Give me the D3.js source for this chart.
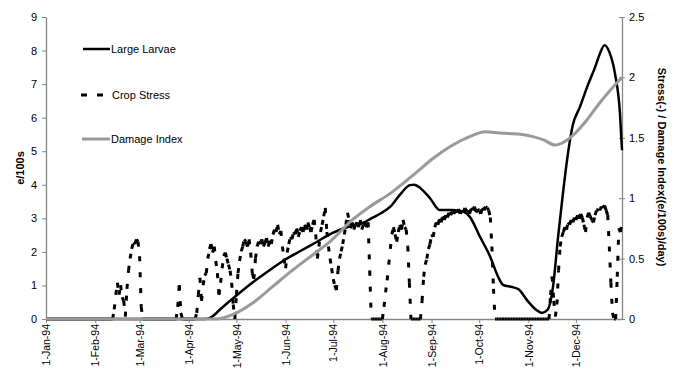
<!DOCTYPE html>
<html><head><meta charset="utf-8">
<script src="https://cdn.jsdelivr.net/npm/d3@7"></script>
<style>
body{margin:0;background:#fff;}
svg{display:block;font-family:"Liberation Sans",Arial,sans-serif;}
</style>
</head><body>
<svg id="chart" width="679" height="370"></svg>
<script>
// ---------- DATA ----------
const xTickLabels = ["1-Jan-94","1-Feb-94","1-Mar-94","1-Apr-94","1-May-94","1-Jun-94","1-Jul-94","1-Aug-94","1-Sep-94","1-Oct-94","1-Nov-94","1-Dec-94"];
const yLeftTicks = [0,1,2,3,4,5,6,7,8,9];
const yRightTicks = [0,0.5,1,1.5,2,2.5];
const seriesNames = ["Large Larvae","Crop Stress","Damage Index"];

// Large Larvae (e/100s, left axis): day of year, value
const larvaeDays   = [0,100,104,110,120,130,140,150,160,170,180,190,200,205,211,217,223,229.4,232,236,242,248,256,263,267,273.5,280,285,288,294,298,303,309,312.5,316,319.5,322.7,325.8,329,332,336.5,341,346,349,352,355,358.5,361.7,363];
const larvaeValues = [0,0,0.05,0.3,0.7,1.08,1.42,1.75,2.02,2.28,2.55,2.74,2.87,3.0,3.15,3.35,3.7,3.99,4.0,3.9,3.6,3.25,3.25,3.2,3.05,2.45,1.85,1.25,1.02,0.95,0.88,0.57,0.27,0.18,0.27,0.95,2.44,3.75,4.95,5.78,6.32,6.91,7.5,7.9,8.16,7.96,7.33,6.14,5.03];

// Damage Index (right axis)
const damageDays   = [0,107,112,120,130,143,155,168,179,193,204,217,234,243,255,267,277,286,299,307,314,320.7,327,332,341,349,356,363];
const damageValues = [0,0,0.01,0.05,0.13,0.27,0.4,0.53,0.64,0.82,0.93,1.04,1.22,1.32,1.43,1.51,1.55,1.54,1.53,1.51,1.48,1.44,1.47,1.52,1.65,1.79,1.9,2.0];

// Crop Stress (right axis), daily values; days not listed are 0
const stressFebStart = 42;
const stressFeb = [0,0.08,0.2,0.3,0.2,0.28,0.18,0.15,0.02,0.25,0.4,0.5,0.58,0.63,0.62,0.66,0.64,0.52,0.1,0];
const stressMarStart = 82;
const stressMar = [0,0.1,0.28,0.05,0];
const stressAprJulStart = 94;
const stressAprJul = [0,0.05,0.2,0.34,0.15,0.28,0.36,0.38,0.5,0.58,0.62,0.55,0.6,0.48,0.38,0.2,0.3,0.42,0.52,0.55,0.5,0.45,0.4,0.3,0.12,0.0,0.2,0.38,0.48,0.56,0.6,0.66,0.64,0.6,0.66,0.55,0.38,0.33,0.5,0.6,0.64,0.62,0.66,0.6,0.63,0.67,0.6,0.65,0.62,0.7,0.74,0.72,0.78,0.7,0.73,0.6,0.5,0.42,0.55,0.62,0.68,0.66,0.72,0.7,0.75,0.68,0.73,0.76,0.72,0.78,0.74,0.8,0.76,0.72,0.78,0.82,0.7,0.5,0.6,0.72,0.78,0.85,0.92,0.72,0.6,0.5,0.42,0.33,0.28,0.24,0.4,0.5,0.56,0.62,0.7,0.78,0.88,0.82,0.75,0.8,0.74,0.78,0.8,0.76,0.82,0.74,0.78,0.8,0.76,0.8,0.4,0];
const stressAugStart = 212;
const stressAug = [0,0.1,0.22,0.32,0.45,0.58,0.7,0.76,0.7,0.64,0.72,0.78,0.74,0.82,0.76,0.74,0.6,0.3,0];
const stressSepOctStart = 236;
const stressSepOct = [0,0.15,0.35,0.45,0.5,0.58,0.62,0.7,0.68,0.76,0.8,0.78,0.83,0.8,0.85,0.82,0.86,0.84,0.88,0.86,0.89,0.87,0.9,0.88,0.91,0.87,0.9,0.88,0.92,0.89,0.9,0.87,0.92,0.9,0.93,0.88,0.91,0.9,0.87,0.92,0.9,0.93,0.92,0.9,0.84,0.6,0.25,0];
const stressDecStart = 317;
const stressDec = [0,0.2,0.35,0.15,0.02,0.12,0.4,0.6,0.68,0.72,0.76,0.74,0.8,0.78,0.82,0.8,0.84,0.82,0.86,0.83,0.87,0.84,0.78,0.72,0.84,0.88,0.85,0.82,0.8,0.86,0.9,0.91,0.9,0.93,0.92,0.94,0.9,0.86,0.6,0.3,0.05,0,0,0.35,0.75,0.72,0.8];
const lastDay = 363;

// ---------- CHART ----------
const svg = d3.select("#chart");
const t0 = Date.UTC(1994,0,1);
const dayDate = d => new Date(t0 + d*864e5);
const x = d3.scaleUtc().domain([dayDate(0), dayDate(lastDay)]).range([46, 622]);
const yL = d3.scaleLinear().domain([0,9]).range([319,17]);
const yR = d3.scaleLinear().domain([0,2.5]).range([319,17]);
const axisCol = "#868686";

// build daily stress
const stressMap = new Map();
[[stressFebStart,stressFeb],[stressMarStart,stressMar],[stressAprJulStart,stressAprJul],
 [stressAugStart,stressAug],[stressSepOctStart,stressSepOct],[stressDecStart,stressDec]]
 .forEach(([s,arr]) => arr.forEach((v,i)=>stressMap.set(s+i, v)));
const stressDaily = d3.range(0, lastDay+1).map(d => ({d, v: stressMap.has(d) ? stressMap.get(d) : 0}));
const stressPairs = d3.pairs(stressDaily);

// axes
const xTickDates = xTickLabels.map((_,i)=>new Date(Date.UTC(1994,i,1)));
const gx = svg.append("g").attr("transform","translate(0,319)")
  .call(d3.axisBottom(x).tickValues(xTickDates).tickSizeInner(4).tickSizeOuter(0)
    .tickFormat((d,i)=>xTickLabels[i]));
gx.select(".domain").attr("stroke",axisCol).attr("stroke-width",1.3);
gx.selectAll(".tick line").attr("stroke",axisCol);
gx.selectAll(".tick text").attr("transform","rotate(-90)").attr("text-anchor","end")
  .attr("x",-5).attr("y",0).attr("dy","0.35em")
  .attr("font-size","10.5px").attr("fill","#000").attr("font-family","Liberation Sans, Arial, sans-serif");

const gl = svg.append("g").attr("transform","translate(46,0)")
  .call(d3.axisLeft(yL).tickValues(yLeftTicks).tickSizeInner(4).tickSizeOuter(0).tickPadding(5).tickFormat(d3.format("d")));
gl.select(".domain").attr("stroke",axisCol).attr("stroke-width",1.3);
gl.selectAll(".tick line").attr("stroke",axisCol);
gl.selectAll(".tick text").attr("font-size","11px").attr("fill","#000").attr("font-family","Liberation Sans, Arial, sans-serif");

const gr = svg.append("g").attr("transform","translate(622,0)")
  .call(d3.axisRight(yR).tickValues(yRightTicks).tickSizeInner(3).tickSizeOuter(0).tickPadding(4).tickFormat(d3.format("")));
gr.select(".domain").attr("stroke",axisCol).attr("stroke-width",1.3);
gr.selectAll(".tick line").attr("stroke",axisCol).attr("x1",-3).attr("x2",3);
gr.selectAll(".tick text").attr("font-size","11px").attr("fill","#000").attr("font-family","Liberation Sans, Arial, sans-serif");

// axis titles
svg.append("text").attr("transform","translate(24,168) rotate(-90)").attr("text-anchor","middle")
  .attr("font-size","11px").attr("font-weight","bold").text("e/100s");
svg.append("text").attr("transform","translate(658,167) rotate(90)").attr("text-anchor","middle")
  .attr("font-size","11px").attr("font-weight","bold").text("Stress(-) / Damage Index((e/100s)/day)");

// crop stress: each daily segment dashed separately
svg.append("g").selectAll("line").data(stressPairs).join("line")
  .attr("x1",p=>x(dayDate(p[0].d))).attr("y1",p=>yR(p[0].v))
  .attr("x2",p=>x(dayDate(p[1].d))).attr("y2",p=>yR(p[1].v))
  .attr("stroke","#000").attr("stroke-width",3).attr("stroke-dasharray","5,11");

// larvae
const larvae = larvaeDays.map((d,i)=>({d, v: larvaeValues[i]}));
svg.append("path").datum(larvae)
  .attr("d", d3.line().x(p=>x(dayDate(p.d))).y(p=>yL(p.v)).curve(d3.curveMonotoneX))
  .attr("fill","none").attr("stroke","#000").attr("stroke-width",2.5);

// damage index
const damage = damageDays.map((d,i)=>({d, v: damageValues[i]}));
svg.append("path").datum(damage)
  .attr("d", d3.line().x(p=>x(dayDate(p.d))).y(p=>yR(p.v)).curve(d3.curveMonotoneX))
  .attr("fill","none").attr("stroke","#9a9a9a").attr("stroke-width",3);

// legend
const leg = svg.append("g");
const legY = [49, 95, 139];
leg.append("line").attr("x1",83).attr("x2",110).attr("y1",legY[0]).attr("y2",legY[0]).attr("stroke","#000").attr("stroke-width",2.5);
leg.append("line").attr("x1",81).attr("x2",104).attr("y1",legY[1]).attr("y2",legY[1]).attr("stroke","#000").attr("stroke-width",3).attr("stroke-dasharray","6,10");
leg.append("line").attr("x1",82).attr("x2",110).attr("y1",legY[2]).attr("y2",legY[2]).attr("stroke","#9a9a9a").attr("stroke-width",3);
seriesNames.forEach((n,i)=>{
  leg.append("text").attr("x", i===1 ? 112 : 111).attr("y", legY[i]).attr("dy","0.35em")
    .attr("font-size","11px").attr("fill","#000").text(n);
});
</script>
</body></html>
